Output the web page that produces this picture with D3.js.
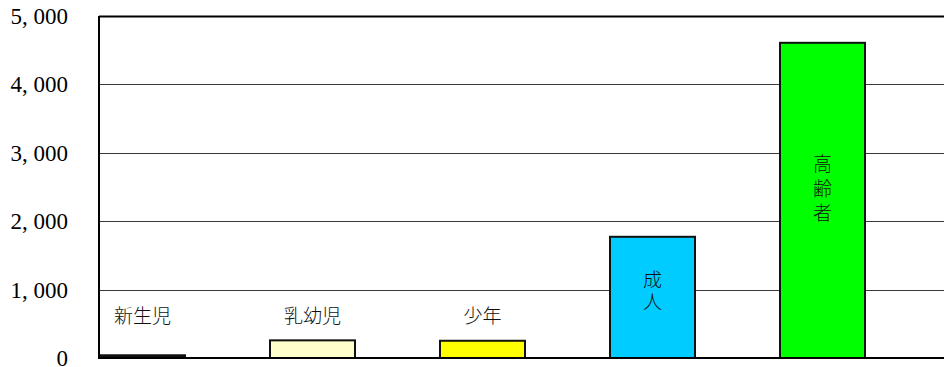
<!DOCTYPE html>
<html><head><meta charset="utf-8">
<script src="https://cdn.jsdelivr.net/npm/d3@7"></script>
<style>body{margin:0;background:#fff;}svg{display:block;}</style>
</head><body>
<svg id="c" width="944" height="367"></svg>
<script>
const categories = ["新生児", "乳幼児", "少年", "成人", "高齢者"];
const values = [40, 258, 252, 1772, 4608];
const colors = ["#111111", "#ffffcc", "#ffff00", "#00ccff", "#00ff00"];
const tickValues = [0, 1000, 2000, 3000, 4000, 5000];
const tickLabels = ["0", "1, 000", "2, 000", "3, 000", "4, 000", "5, 000"];
const labelInside = [false, false, false, true, true];

(function () {
const svg = d3.select("#c");
const pL = 99, pT = 16, pB = 358, pR = 944;
const y = d3.scaleLinear().domain([0, 5000]).range([pB, pT]);
const x = d3.scaleBand().domain(categories).range([100, 865]).paddingInner(0.5).paddingOuter(0);

// gridlines
svg.append("g").selectAll("line").data(tickValues.slice(1, 5)).join("line")
  .attr("x1", pL).attr("x2", pR)
  .attr("y1", d => Math.round(y(d)) + 0.5).attr("y2", d => Math.round(y(d)) + 0.5)
  .attr("stroke", "#3a3a3a").attr("stroke-width", 1);

// top border
svg.append("line").attr("x1", pL).attr("x2", pR).attr("y1", pT + 0.5).attr("y2", pT + 0.5)
  .attr("stroke", "#000").attr("stroke-width", 2);

// bars
svg.append("g").selectAll("rect").data(values).join("rect")
  .attr("x", (d, i) => x(categories[i]))
  .attr("width", x.bandwidth())
  .attr("y", d => y(d))
  .attr("height", d => y(0) - y(d))
  .attr("fill", (d, i) => colors[i])
  .attr("stroke", "#111").attr("stroke-width", 2);

// axes lines
svg.append("line").attr("x1", pL).attr("x2", pL).attr("y1", pT).attr("y2", pB + 1)
  .attr("stroke", "#000").attr("stroke-width", 2);
svg.append("line").attr("x1", pL).attr("x2", pR).attr("y1", pB).attr("y2", pB)
  .attr("stroke", "#000").attr("stroke-width", 2);

// y tick labels
svg.append("g").selectAll("text").data(tickValues).join("text")
  .attr("x", 68).attr("y", d => y(d) + 8)
  .attr("text-anchor", "end")
  .attr("font-family", "'Liberation Serif','DejaVu Serif',serif")
  .attr("font-size", 23).attr("fill", "#000")
  .attr("xml:space", "preserve")
  .text((d, i) => tickLabels[i]);

// category labels
const lf = "'Noto Sans CJK JP',sans-serif";
categories.forEach((c, i) => {
  const cx = x(c) + x.bandwidth() / 2;
  if (!labelInside[i]) {
    svg.append("text").attr("x", cx).attr("y", y(614)).attr("dy", "0.35em")
      .attr("text-anchor", "middle").attr("font-family", lf).attr("font-size", 19)
      .attr("font-weight", 300).attr("fill", "#111").text(c);
  } else {
    const n = Array.from(c).length;
    const ls = n > 2 ? 5.5 : 3;
    const mid = (y(values[i]) + y(0)) / 2 - (n > 2 ? 12 : 6.5) + ls / 2;
    svg.append("text").attr("x", cx).attr("y", mid)
      .attr("writing-mode", "vertical-rl")
      .style("text-orientation", "upright")
      .attr("letter-spacing", ls)
      .attr("text-anchor", "middle").attr("font-family", lf).attr("font-size", 19)
      .attr("font-weight", 300).attr("fill", "#111").text(c);
  }
});
})();
</script>
</body></html>
